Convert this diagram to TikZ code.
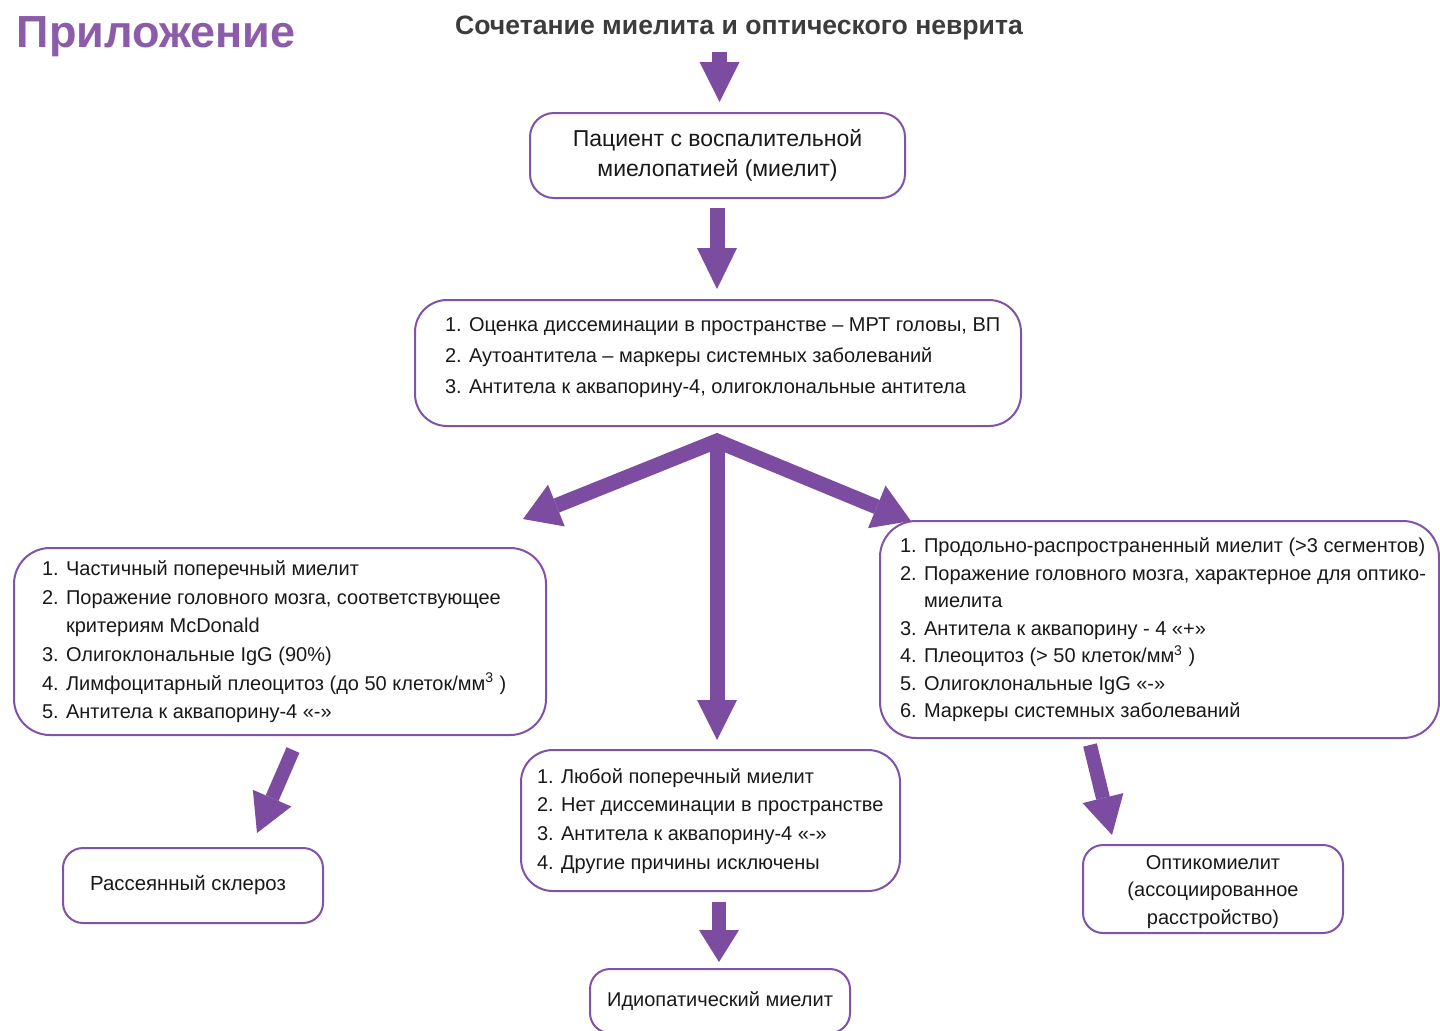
\documentclass[tikz,border=0pt]{standalone}
\usepackage{fontspec}
\setmainfont{Liberation Sans}
\usetikzlibrary{calc}
\definecolor{arr}{RGB}{123,76,160}
\definecolor{brd}{RGB}{128,82,168}
\definecolor{ttl}{RGB}{140,92,170}
\definecolor{txt}{RGB}{25,25,25}
\definecolor{hdr}{RGB}{60,60,60}
\newcommand\lst[3]{\makebox[#1][l]{\fontsize{10pt}{#2}\selectfont\begin{tabular}{@{}l@{}}#3\end{tabular}}}
\newcommand\ahead[3]{% head base, tip, half width
  \fill[arr] ($(#1)!#3!90:(#2)$) -- (#2) -- ($(#1)!#3!-90:(#2)$) -- cycle;}
\begin{document}
\begin{tikzpicture}[x=0.5pt,y=-0.5pt,
  box/.style={draw=brd, line width=1pt, rounded corners=#1, fill=white, text=txt, inner ysep=0pt},
  stem/.style={draw=arr, line width=#1, line cap=butt, line join=miter}]
\clip (0,0) rectangle (1440,1030);
\fill[white] (0,0) rectangle (1440,1030);
% titles
\node[text=ttl, font=\bfseries\fontsize{22.5pt}{26pt}\selectfont] (title) at (156,37) {Приложение};
\node[text=hdr, font=\bfseries\fontsize{13.3pt}{16pt}\selectfont] (head) at (739,28) {Сочетание миелита и оптического неврита};
% boxes
\node[box=12pt, minimum width=187.5pt, minimum height=42.5pt, align=center, font=\fontsize{11.5pt}{15pt}\selectfont] (b1) at (717.5,155.5) {Пациент с воспалительной\\миелопатией (миелит)};
\node[box=16pt, minimum width=303pt, minimum height=63pt, inner xsep=15pt] (b2) at (718,363)
  {\lst{273pt}{15.5pt}{1. Оценка диссеминации в пространстве – МРТ головы, ВП\\2. Аутоантитела – маркеры системных заболеваний\\3. Антитела к аквапорину-4, олигоклональные антитела\\[7pt]}};
\node[box=18pt, minimum width=266pt, minimum height=93.5pt, inner xsep=14pt] (b3) at (280,641.5)
  {\lst{238pt}{14.3pt}{1. Частичный поперечный миелит\\2. Поражение головного мозга, соответствующее\\\phantom{2. }критериям McDonald\\3. Олигоклональные IgG (90\%)\\4. Лимфоцитарный плеоцитоз (до 50 клеток/мм\textsuperscript{3} )\\5. Антитела к аквапорину-4 «-»}};
\node[box=18pt, minimum width=279.5pt, minimum height=108.5pt, inner xsep=10pt] (b4) at (1159.5,629.5)
  {\lst{259.5pt}{13.75pt}{1. Продольно-распространенный миелит (>3 сегментов)\\2. Поражение головного мозга, характерное для оптико-\\\phantom{2. }миелита\\3. Антитела к аквапорину - 4 «+»\\4. Плеоцитоз (> 50 клеток/мм\textsuperscript{3} )\\5. Олигоклональные IgG «-»\\6. Маркеры системных заболеваний}};
\node[box=16pt, minimum width=189.5pt, minimum height=70.5pt, inner xsep=8pt] (b5) at (710.5,820.5)
  {\lst{173.5pt}{14.3pt}{1. Любой поперечный миелит\\2. Нет диссеминации в пространстве\\3. Антитела к аквапорину-4 «-»\\4. Другие причины исключены}};
\node[box=10pt, minimum width=130pt, minimum height=37.5pt, font=\fontsize{10.2pt}{12pt}\selectfont] (b6) at (193,885.5) {\makebox[120pt][c]{\hspace{-5pt}Рассеянный склероз}};
\node[box=10pt, minimum width=130pt, minimum height=44pt, align=center, font=\fontsize{10pt}{13.75pt}\selectfont] (b7) at (1213,889) {\rule{0pt}{10pt}Оптикомиелит\\(ассоциированное\\расстройство)};
\node[box=10pt, minimum width=130pt, minimum height=32pt, font=\fontsize{10pt}{12pt}\selectfont] (b8) at (720,1001) {Идиопатический миелит};
% arrow coordinates
\coordinate (a1s) at (719.5,52);  \coordinate (a1h) at (719.5,62);  \coordinate (a1t) at (719.5,102);
\coordinate (a2s) at (717,208);   \coordinate (a2h) at (717,248);   \coordinate (a2t) at (717,289);
\coordinate (apex) at (717,441);
\coordinate (cch) at (717,700);   \coordinate (cct) at (717,740);
\coordinate (lft) at (523,519);   \coordinate (lfh) at ($(lft)!18pt!(apex)$);
\coordinate (rgt) at (911,521);   \coordinate (rgh) at ($(rgt)!18.5pt!(apex)$);
\coordinate (lls) at (293,750);   \coordinate (llt) at (257,833); \coordinate (llh) at ($(llt)!19pt!(lls)$);
\coordinate (rls) at (1090,745);  \coordinate (rlt) at (1112,835); \coordinate (rlh) at ($(rlt)!19pt!(rls)$);
\coordinate (cls) at (719,902);   \coordinate (clh) at (719,930); \coordinate (clt) at (719,962);
% arrows
\draw[stem=7.5pt] (a1s) -- (a1h); \ahead{a1h}{a1t}{10pt}
\draw[stem=7.5pt] (a2s) -- (a2h); \ahead{a2h}{a2t}{10pt}
\draw[stem=7.5pt] (lfh) -- (apex) -- (rgh);
\draw[stem=7.5pt] (apex) -- (cch);
\ahead{cch}{cct}{10pt}
\ahead{lfh}{lft}{11.25pt}
\ahead{rgh}{rgt}{11.5pt}
\draw[stem=7pt] (lls) -- (llh); \ahead{llh}{llt}{10.5pt}
\draw[stem=7pt] (rls) -- (rlh); \ahead{rlh}{rlt}{10.5pt}
\draw[stem=7pt] (cls) -- (clh); \ahead{clh}{clt}{10pt}
\end{tikzpicture}
\end{document}
